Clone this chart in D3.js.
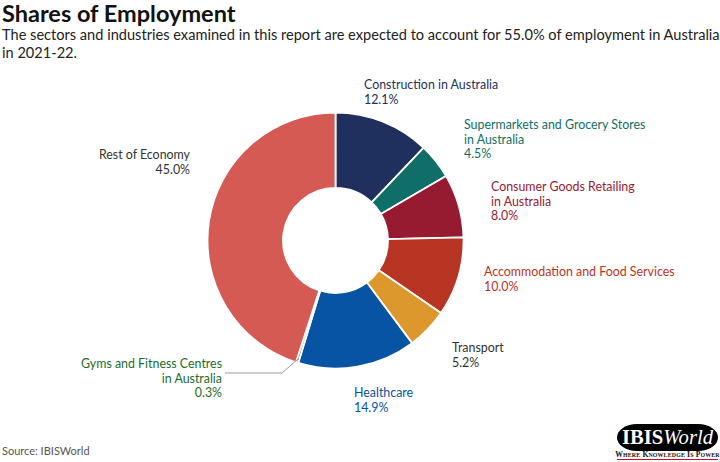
<!DOCTYPE html>
<html>
<head>
<meta charset="utf-8">
<script src="https://cdn.jsdelivr.net/npm/d3@7"></script>
<style>
  html, body { margin: 0; padding: 0; background: #fff; }
  svg { display: block; font-family: Lato, "Open Sans", sans-serif; }
</style>
</head>
<body>
<svg id="chart" width="720" height="462"></svg>
<script>
const categories = [
  "Construction in Australia",
  "Supermarkets and Grocery Stores in Australia",
  "Consumer Goods Retailing in Australia",
  "Accommodation and Food Services",
  "Transport",
  "Healthcare",
  "Gyms and Fitness Centres in Australia",
  "Rest of Economy"
];
const values = [12.1, 4.5, 8.0, 10.0, 5.2, 14.9, 0.3, 45.0];
const sliceColors = ["#1f2f5e", "#0f6e68", "#961a30", "#b83423", "#dc972d", "#0654a3", "#1d6b2b", "#d45a53"];
const labelColors = ["#1f2f5e", "#0f6e68", "#961a30", "#b83423", "#333333", "#0654a3", "#1d6b2b", "#333333"];
const labelLines = [
  ["Construction in Australia"],
  ["Supermarkets and Grocery Stores", "in Australia"],
  ["Consumer Goods Retailing", "in Australia"],
  ["Accommodation and Food Services"],
  ["Transport"],
  ["Healthcare"],
  ["Gyms and Fitness Centres", "in Australia"],
  ["Rest of Economy"]
];
const titleText = "Shares of Employment";
const subtitleLines = [
  "The sectors and industries examined in this report are expected to account for 55.0% of employment in Australia",
  "in 2021-22."
];
const sourceText = "Source: IBISWorld";
const taglineWords = ["WHERE", "KNOWLEDGE", "IS", "POWER"];

// layout (positions, not data)
const labelPos = [
  {x: 364, y: 89, anchor: "start"},
  {x: 464, y: 129, anchor: "start"},
  {x: 491, y: 191, anchor: "start"},
  {x: 484, y: 276, anchor: "start"},
  {x: 452, y: 352, anchor: "start"},
  {x: 354, y: 397, anchor: "start"},
  {x: 222, y: 368, anchor: "end"},
  {x: 190, y: 159, anchor: "end"}
];

const svg = d3.select("#chart");
const fmt = d3.format(".1f");

svg.append("text").attr("x", 2).attr("y", 22)
  .attr("font-size", 23.5).attr("font-weight", 700).attr("fill", "#111")
  .text(titleText);

svg.append("text").attr("font-size", 14.6).attr("fill", "#222")
  .selectAll("tspan").data(subtitleLines).join("tspan")
  .attr("x", 2).attr("y", (d, i) => 40 + i * 17.5).text(d => d);

const cx = 335.5, cy = 240.5, rOuter = 128, rInner = 52.5;
const data = categories.map((c, i) => ({name: c, value: values[i], i}));
const pie = d3.pie().value(d => d.value).sort(null);
const arc = d3.arc().innerRadius(rInner).outerRadius(rOuter);
const arcs = pie(data);

const g = svg.append("g").attr("transform", `translate(${cx},${cy})`);
g.selectAll("path").data(arcs).join("path")
  .attr("d", arc)
  .attr("fill", d => sliceColors[d.data.i])
  .attr("stroke", "#fff").attr("stroke-width", 1.8).attr("stroke-linejoin", "round");

// leader line for tiny Gyms slice
const gymArc = arcs[6];
const mid = (gymArc.startAngle + gymArc.endAngle) / 2;
const px = cx + Math.sin(mid) * (rOuter - 4), py = cy - Math.cos(mid) * (rOuter - 4);
svg.append("polyline")
  .attr("points", [[225, 373], [282, 373], [px, py]].map(p => p.join(",")).join(" "))
  .attr("fill", "none").attr("stroke", "#999").attr("stroke-width", 1);

// labels
arcs.forEach((a, i) => {
  const p = labelPos[i];
  const lines = labelLines[i].concat([fmt(values[i]) + "%"]);
  svg.append("text")
    .attr("font-size", 12.4).attr("fill", labelColors[i])
    .attr("text-anchor", p.anchor)
    .selectAll("tspan").data(lines).join("tspan")
    .attr("x", p.x).attr("y", (d, k) => p.y + k * 14.5).text(d => d);
});

// source
svg.append("text").attr("x", 2).attr("y", 455).attr("font-size", 11).attr("fill", "#555").text(sourceText);

// logo
const logo = svg.append("g");
logo.append("rect").attr("x", 617).attr("y", 424).attr("width", 101).attr("height", 27)
  .attr("rx", 20).attr("ry", 13.5).attr("fill", "#000");
const lt = logo.append("text").attr("x", 622).attr("y", 444)
  .attr("fill", "#fff").attr("font-family", "'Liberation Serif', 'DejaVu Serif', serif").attr("font-size", 20)
  .attr("textLength", 91).attr("lengthAdjust", "spacingAndGlyphs");
lt.append("tspan").attr("font-weight", 700).text("IBIS");
lt.append("tspan").attr("font-style", "italic").text("World");
const tag = logo.append("text").attr("x", 667.5).attr("y", 456.5).attr("text-anchor", "middle")
  .attr("font-family", "'Liberation Serif', 'DejaVu Serif', serif")
  .attr("font-weight", 700).attr("fill", "#111").attr("letter-spacing", 0.15);
taglineWords.forEach((w, i) => {
  tag.append("tspan").attr("font-size", 7.6).text((i ? " " : "") + w[0]);
  tag.append("tspan").attr("font-size", 5.9).text(w.slice(1));
});
logo.append("line").attr("x1", 617).attr("x2", 718).attr("y1", 459.5).attr("y2", 459.5)
  .attr("stroke", "#c8102e").attr("stroke-width", 1);
</script>
</body>
</html>
